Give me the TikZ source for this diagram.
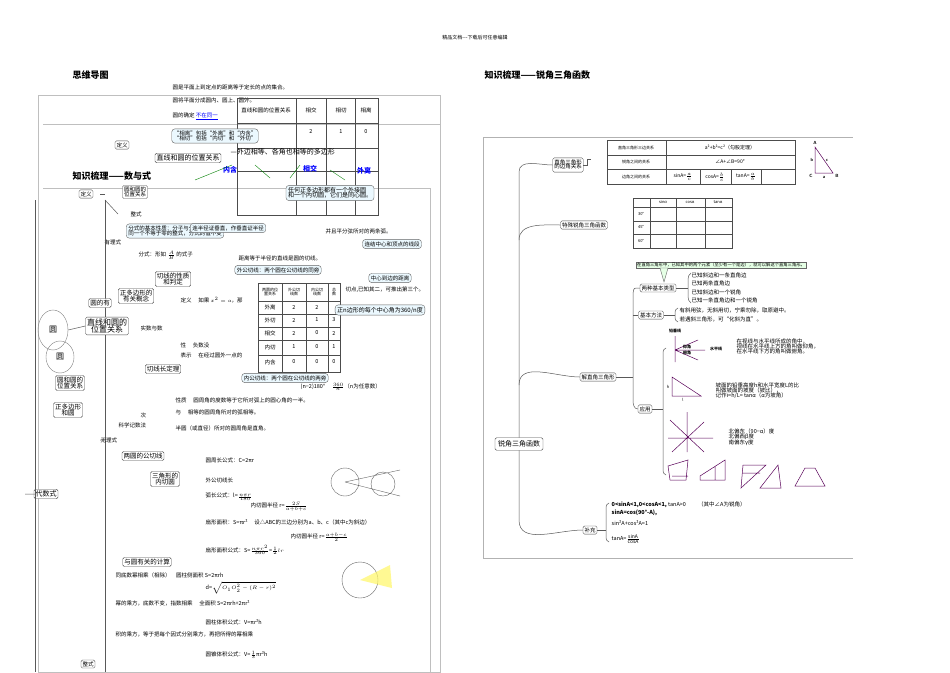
\documentclass[tikz,border=0pt]{standalone}
\usepackage{fontspec}
\setmainfont{Noto Sans CJK SC}
\newfontfamily\cjk{Noto Sans CJK SC}
\usetikzlibrary{shapes.geometric,shapes.callouts}
\begin{document}
\begin{tikzpicture}[x=1pt,y=-1pt,font=\cjk\fontsize{5.5}{6.5}\selectfont,
  bx/.style={draw=black!70,rounded corners=1.5pt,inner sep=1.5pt,fill=white},
  gbx/.style={draw=black!60,rounded corners=3pt,fill=cyan!8,inner sep=2pt,align=left},
  ln/.style={draw=black!65,line width=0.5pt},
  tx/.style={anchor=west,inner sep=0.5pt},
  fig/.style={draw=violet!70!black,line width=0.5pt}]
\useasboundingbox (0,0) rectangle (950,672);
\fill[white] (0,0) rectangle (950,672);
\node (hdr) at (475,38) {\fontsize{5}{6}\selectfont 精品文档---下载后可任意编辑};
\node[tx,font=\cjk\bfseries\fontsize{9}{10}\selectfont] (t1) at (72,75) {思维导图};
\node[tx,font=\cjk\bfseries\fontsize{9}{10}\selectfont] (t2) at (484,75) {知识梳理——锐角三角函数};

% ================= RIGHT PANEL =================
\draw[black!30] (483,137) -- (483,558) -- (853,558);
\draw[black!30] (483,137) -- (853,137);
\node[bx,font=\cjk\fontsize{7}{8}\selectfont,inner sep=3pt] (root) at (519,444) {锐角三角函数};
\node[bx] (b1) at (568,165) {\begin{tabular}{@{}c@{}}直角三角形\\[-2pt]的边角关系\end{tabular}};
\node[bx] (b2) at (584,225) {特殊锐角三角函数};
\node[bx] (b3) at (598,377) {解直角三角形};
\node[bx] (b4) at (590,530) {补充};
\draw[ln] (root.north) -- (519,172) to[out=90,in=180] (b1.west);
\draw[ln] (519,240) to[out=90,in=180] (b2.west);
\draw[ln] (519,385) to[out=90,in=180] (b3.west);
\draw[ln] (root.south) -- (519,520) to[out=-90,in=180] (b4.west);
\draw[ln] (b1.east) -- ++(4,0) -- ++(0,-6) -- ++(4,0);
% table1
\draw[black!70] (607,140) rectangle (795,184);
\draw[black!70] (607,155)--(795,155) (607,169)--(795,169) (666,140)--(666,184) (700,169)--(700,184) (731,169)--(731,184) (761,169)--(761,184);
\node (r1) at (636,148) {\fontsize{4}{5}\selectfont 直角三角形三边关系};
\node (r2) at (636,162) {\fontsize{4}{5}\selectfont 锐角之间的关系};
\node (r3) at (636,177) {\fontsize{4}{5}\selectfont 边角之间的关系};
\node (f1) at (730,148) {\fontsize{5}{6}\selectfont a²+b²=c²（勾股定理）};
\node (f2) at (730,162) {\fontsize{5}{6}\selectfont ∠A+∠B=90°};
\node (f3) at (683,177) {\fontsize{5}{6}\selectfont sinA=$\frac{a}{c}$};
\node (f4) at (715,177) {\fontsize{5}{6}\selectfont cosA=$\frac{b}{c}$};
\node (f5) at (746,177) {\fontsize{5}{6}\selectfont tanA=$\frac{a}{b}$};
\coordinate (tA) at (815,147); \coordinate (tC) at (815,173); \coordinate (tB) at (833,173);
\draw[fig] (tA)--(tC)--(tB)--cycle;
\node[font=\sffamily\bfseries\fontsize{4.5}{5}\selectfont] at (815,143) {A};
\node[font=\sffamily\bfseries\fontsize{4.5}{5}\selectfont] at (811,176) {C};
\node[font=\sffamily\bfseries\fontsize{4.5}{5}\selectfont] at (837,176) {B};
\node[font=\sffamily\bfseries\fontsize{4.5}{5}\selectfont] at (812,160) {b};
\node[font=\sffamily\bfseries\fontsize{4.5}{5}\selectfont] at (827,160) {c};
\node[font=\sffamily\bfseries\fontsize{4.5}{5}\selectfont] at (824,177) {a};
% table2
\draw[black!70] (633,198) rectangle (732,248);
\draw[black!70] (633,207)--(732,207) (633,221)--(732,221) (633,234)--(732,234) (650,198)--(650,248) (676,198)--(676,248) (705,198)--(705,248);
\node at (663,202) {\fontsize{4}{5}\selectfont sinα};
\node at (690,202) {\fontsize{4}{5}\selectfont cosα};
\node at (718,202) {\fontsize{4}{5}\selectfont tanα};
\node at (641,214) {\fontsize{4}{5}\selectfont 30°};
\node at (641,227) {\fontsize{4}{5}\selectfont 45°};
\node at (641,241) {\fontsize{4}{5}\selectfont 60°};
% branch 3
\node[bx] (c1) at (658,288) {两种基本类型};
\node[bx] (c2) at (651,315) {基本方法};
\node[bx] (c4) at (645,409) {应用};
\draw[ln] (b3.east) -- (633,377);
\draw[ln] (c1.west) -- (636,288) to[out=180,in=90] (633,295) -- (633,400) to[out=-90,in=180] (c4.west);
\draw[ln] (633,315) -- (c2.west);
\node[draw=black!60,fill=green!10,inner sep=1pt,anchor=west] (note) at (636,265) {\fontsize{4.3}{5}\selectfont 在直角三角形中，已知其中的两个元素（至少有一个是边），就可以解这个直角三角形。};
\fill[green!10,draw=black!60] (660,268)--(668,268)--(664,282)--cycle;
\draw[ln] (c1.east) -- (688,288);
\draw[ln] (691,273) to[out=-150,in=90] (688,280) -- (688,296) to[out=-90,in=150] (691,303);
\node[tx] at (691,275) {已知斜边和一条直角边};
\node[tx] at (691,283) {已知两条直角边};
\node[tx] at (691,292) {已知斜边和一个锐角};
\node[tx] at (691,300) {已知一条直角边和一个锐角};
\draw[ln] (c2.east) -- (675,315);
\draw[ln] (678,308) to[out=-150,in=90] (675,312) -- (675,318) to[out=-90,in=150] (678,322);
\node[tx] at (679,310) {有斜用弦，无斜用切，宁乘勿除，取原避中。};
\node[tx] at (679,319) {若遇斜三角形，可“化斜为直”。};
\draw[ln] (c4.east) -- (663,409);
\draw[ln] (666,348) to[out=-150,in=90] (663,352) -- (663,471) to[out=-90,in=150] (666,475);
% elevation figure
\draw[fig] (675,336)--(675,362) (675,350)--(705,350) (675,350)--(698,340) (675,350)--(698,360);
\node[font=\cjk\bfseries\fontsize{4}{5}\selectfont] at (675,331) {铅垂线};
\node[font=\cjk\bfseries\fontsize{4}{5}\selectfont] at (687,347) {仰角};
\node[font=\cjk\bfseries\fontsize{4}{5}\selectfont] at (687,353) {俯角};
\node[font=\cjk\bfseries\fontsize{4}{5}\selectfont] at (716,349) {水平线};
\node[tx,align=left] at (736,346) {在视线与水平线所成的角中，\\[-1.5pt]视线在水平线上方的角叫做仰角，\\[-1.5pt]在水平线下方的角叫做俯角。};
% slope
\draw[fig] (672,377)--(672,396)--(701,396)--cycle;
\node[font=\fontsize{4}{5}\selectfont] at (668,387) {h}; \node[font=\fontsize{4}{5}\selectfont] at (683,400) {l};
\node[tx,align=left] at (715,391) {坡面的铅垂高度h和水平宽度L的比\\[-1.5pt]叫做坡面的坡度（坡比），\\[-1.5pt]记作i=h/L= tanα（α为坡角）};
% compass
\draw[fig] (668,438)--(713,438) (687,412)--(687,452) (670,420)--(704,452) (704,422)--(672,452);
\node[tx,align=left] at (728,437) {北偏东（90−α）度\\[-1pt]北偏西β度\\[-1pt]南偏东γ度};
% small figures
\draw[fig] (668,466)--(688,460)--(686,480)--(670,480)--cycle (672,476)--(688,476);
\draw[fig] (700,476)--(725,460)--(725,480)--(700,480)--cycle (715,466)--(715,480);
\draw[fig] (743,465)--(766,465)--(741,488)--cycle (743,473)--(760,473);
\draw[fig] (760,488)--(778,465)--(781,488)--cycle;
\draw[fig] (795,486)--(805,468)--(815,468)--(825,486)--cycle;
% branch 4
\draw[ln] (b4.east) -- (606,530);
\draw[ln] (609,503) to[out=-150,in=90] (606,507) -- (606,538) to[out=-90,in=150] (609,542);
\node[tx] at (611,505) {\bfseries 0<sinA<1,0<cosA<1, \mdseries tanA>0 \qquad（其中∠A为锐角）};
\node[tx] at (611,513) {\bfseries sinA=cos(90°-A),};
\node[tx] at (611,523) {sin²A+cos²A=1};
\node[tx] at (611,539) {tanA=$\frac{\hbox{\fontsize{5}{6}\selectfont sinA}}{\hbox{\fontsize{5}{6}\selectfont cosA}}$};

% ================= LEFT PANEL (overlapping mind maps) =================
\draw[black!25] (38,95) rectangle (440,672);
\draw[black!25] (43,188) -- (430,188) -- (430,672);
\draw[black!25] (43,124) -- (440,124);
\node[tx] at (172,87) {圆是平面上到定点的距离等于定长的点的集合。};
\node[tx] at (172,100) {圆将平面分成圆内、圆上、圆外。};
\node[tx] at (172,116) {圆的确定 \textcolor{blue}{\underline{不在同一}}};
\draw[black!70] (237,98) rectangle (378,215);
\draw[black!70] (237,123)--(378,123) (237,148)--(378,148) (237,171)--(378,171) (296,98)--(296,215) (326,98)--(326,215) (355,98)--(355,215);
\node at (266,110) {直线和圆的位置关系}; \node at (311,110) {相交}; \node at (341,110) {相切}; \node at (366,110) {相离};
\node at (311,132) {2}; \node at (341,132) {1}; \node at (366,132) {0};
\node[gbx] (cl1) at (215,136) {“相离”包括“外离”和“内含”\\[-1.5pt]“相切”包括“内切”和“外切”};
\node[bx] (d1) at (122,145) {定义};
\node[bx,font=\cjk\fontsize{7}{8}\selectfont] (d2) at (188,158) {直线和圆的位置关系};
\node[tx,font=\cjk\bfseries\fontsize{9}{10}\selectfont] (t3) at (72,176) {知识梳理——数与式};
\node[tx,font=\cjk\fontsize{7}{8}\selectfont] at (230,152) {—外边相等、各角也相等的多边形};
\node[text=blue,font=\cjk\bfseries\fontsize{7}{8}\selectfont] at (230,170) {内含};
\node[text=blue,font=\cjk\bfseries\fontsize{7}{8}\selectfont] at (310,169) {相交};
\node[text=blue,font=\cjk\bfseries\fontsize{7}{8}\selectfont] at (364,171) {外离};
\draw[green!50!black] (195,180)--(232,165) (255,165)--(270,178) (290,178)--(300,165) (330,170)--(345,180);
\node[gbx,font=\cjk\fontsize{6}{7}\selectfont] (cl2) at (330,193) {任何正多边形都有一个外接圆\\[-1.5pt]和一个内切圆，它们是同心圆。};
\node[bx] (d3) at (86,194) {定义};
\node[bx,align=center] (d4) at (135,192) {圆和圆的\\[-1.5pt]位置关系};
\node[tx] at (130,214) {整式};
\node[tx] at (104,242) {有理式};
\draw[ln] (105,200)--(105,672) (100,194)--(105,194);
\node[gbx] at (175,231) {分式的基本性质：分子与分母\\[-1.5pt]同一个不等于零的整式，分式的值不变};
\node[gbx] at (228,228) {连半径证垂直，作垂直证半径};
\node[tx] at (325,231) {并且平分弦所对的两条弧。};
\node[gbx] (cl3) at (392,244) {连结中心和顶点的线段};
\node[tx] at (138,255) {分式：形如 $\frac{A}{B}$ 的式子};
\node[tx] at (238,258) {距离等于半径的直线是圆的切线。};
\node[bx,align=center,font=\cjk\fontsize{6.5}{7.5}\selectfont] (d5) at (173,279) {切线的性质\\[-1.5pt]和判定};
\node[gbx] at (278,270) {外公切线：两个圆在公切线的同旁};
\node[gbx] (cl4) at (390,278) {中心到边的距离};
\node[bx,align=center,font=\cjk\fontsize{6.5}{7.5}\selectfont] (d6) at (136,296) {正多边形的\\[-1.5pt]有关概念};
\node[bx,font=\cjk\fontsize{6.5}{7.5}\selectfont] (d7) at (100,303) {圆的有};
\draw[black!70] (258,283) rectangle (340,372);
\draw[black!70] (258,301)--(340,301) (258,314)--(340,314) (258,327)--(340,327) (258,340)--(340,340) (258,355)--(340,355) (282,283)--(282,372) (306,283)--(306,372) (328,283)--(328,372);
\node[align=center,font=\cjk\fontsize{4}{5}\selectfont] at (270,292) {两圆的位\\[-1.5pt]置关系};
\node[align=center,font=\cjk\fontsize{4}{5}\selectfont] at (294,292) {外公切\\[-1.5pt]线数};
\node[align=center,font=\cjk\fontsize{4}{5}\selectfont] at (317,292) {内公切\\[-1.5pt]线数};
\node[align=center,font=\cjk\fontsize{4}{5}\selectfont] at (334,292) {总\\[-1.5pt]数};
\node at (270,307) {外离}; \node at (270,320) {外切}; \node at (270,333) {相交}; \node at (270,347) {内切}; \node at (270,362) {内含};
\node at (294,307) {2}; \node at (294,320) {2}; \node at (294,333) {2}; \node at (294,347) {1}; \node at (294,362) {0};
\node at (317,307) {2}; \node at (317,320) {1}; \node at (317,333) {0}; \node at (317,347) {0}; \node at (317,362) {0};
\node at (334,320) {3}; \node at (334,333) {2}; \node at (334,347) {1}; \node at (334,362) {0};
\node[gbx,font=\cjk\fontsize{6}{7}\selectfont] (cl5) at (380,310) {正n边形的每个中心角为360/n度};
\node[tx] at (345,290) {切点,已知其二，可推出第三个。};
\node[bx,align=center,font=\cjk\fontsize{8}{9}\selectfont] (d8) at (107,326) {直线和圆的\\[-1.5pt]位置关系};
\node[draw=black!50,ellipse,minimum width=30pt,minimum height=40pt,font=\cjk\fontsize{8}{9}\selectfont] (o1) at (53,330) {圆};
\node[draw=black!50,ellipse,minimum width=28pt,minimum height=32pt,font=\cjk\fontsize{8}{9}\selectfont] (o2) at (60,357) {圆};
\draw[ln] (o1.east) -- (d8.west);
\node[tx] at (140,328) {实数与数};
\node[tx] at (180,300) {定义 \quad 如果 $x^2=a$，那};
\node[tx] at (180,345) {性 \quad 负数没};
\node[tx] at (180,355) {表示 \quad 在经过圆外一点的};
\node[tx] at (300,387) {(n−2)180° \quad $\frac{360}{n}$（n为任意数）};
\node[bx,font=\cjk\fontsize{6.5}{7.5}\selectfont] (d9) at (163,369) {切线长定理};
\node[bx,align=center,font=\cjk\fontsize{6.5}{7.5}\selectfont] (d10) at (70,383) {圆和圆的\\[-1.5pt]位置关系};
\node[bx,align=center,font=\cjk\fontsize{6.5}{7.5}\selectfont] (d11) at (68,410) {正多边形\\[-1.5pt]和圆};
\node[gbx] at (285,378) {内公切线：两个圆在公切线的两旁};
\node[tx] at (175,400) {性质 \quad 圆周角的度数等于它所对弧上的圆心角的一半。};
\node[tx] at (175,412) {与 \quad 相等的圆周角所对的弧相等。};
\node[tx] at (140,415) {次};
\node[tx] at (118,425) {科学记数法};
\node[tx] at (175,428) {半圆（或直径）所对的圆周角是直角。};
\node[tx] at (100,440) {无理式};
\node[bx,font=\cjk\fontsize{6.5}{7.5}\selectfont] (d12) at (143,456) {两圆的公切线};
\node[tx] at (205,460) {圆周长公式：C=2πr};
\node[bx,align=center,font=\cjk\fontsize{6.5}{7.5}\selectfont] (d13) at (165,479) {三角形的\\[-1.5pt]内切圆};
\node[tx] at (205,480) {外公切线长};
\node[tx] at (205,497) {弧长公式：l=$\frac{n\pi r}{180}$};
\node[tx] at (250,507) {内切圆半径 r=$\frac{2S}{a+b+c}$};
\node[bx,font=\cjk\fontsize{7}{8}\selectfont] (d14) at (46,494) {代数式};
\node[tx] at (205,522) {扇形面积：S=πr²  \quad 设△ABC的三边分别为a、b、c（其中c为斜边）};
\node[tx] at (205,550) {扇形面积公式：S=$\frac{n\pi r^2}{360}$=$\frac12lr$};
\node[tx] at (290,537) {内切圆半径 r=$\frac{a+b-c}{2}$};
\node[bx,font=\cjk\fontsize{6.5}{7.5}\selectfont] (d15) at (147,562) {与圆有关的计算};
\node[tx] at (115,575) {同底数幂相乘（相除）\quad 圆柱侧面积 S=2πrh};
\node[tx] at (205,588) {d=$\sqrt{O_1O_2^2-(R-r)^2}$};
\node[tx] at (115,603) {幂的乘方，底数不变，指数相乘 \quad 全面积 S=2πrh+2πr²};
\node[tx] at (115,634) {积的乘方，等于把每个因式分别乘方，再把所得的幂相乘};
\node[tx] at (205,622) {圆柱体积公式：V=πr²h};
\node[tx] at (205,655) {圆锥体积公式：V=$\frac13$πr²h};
\node[bx] (d16) at (88,664) {整式};
\draw[black!60] (345,482) circle (14) (383,484) circle (12) (345,482)--(400,496) (345,482)--(400,470);
\draw[black!60] (360,580) circle (18);
\fill[yellow!60,opacity=0.7] (360,580)--(390,565)--(392,588)--cycle;
\draw[ln] (35,494)--(25,494) (105,200)--(118,214) (105,440)--(100,440);
\draw[ln] (35,200)--(35,672);
\end{tikzpicture}
\end{document}
